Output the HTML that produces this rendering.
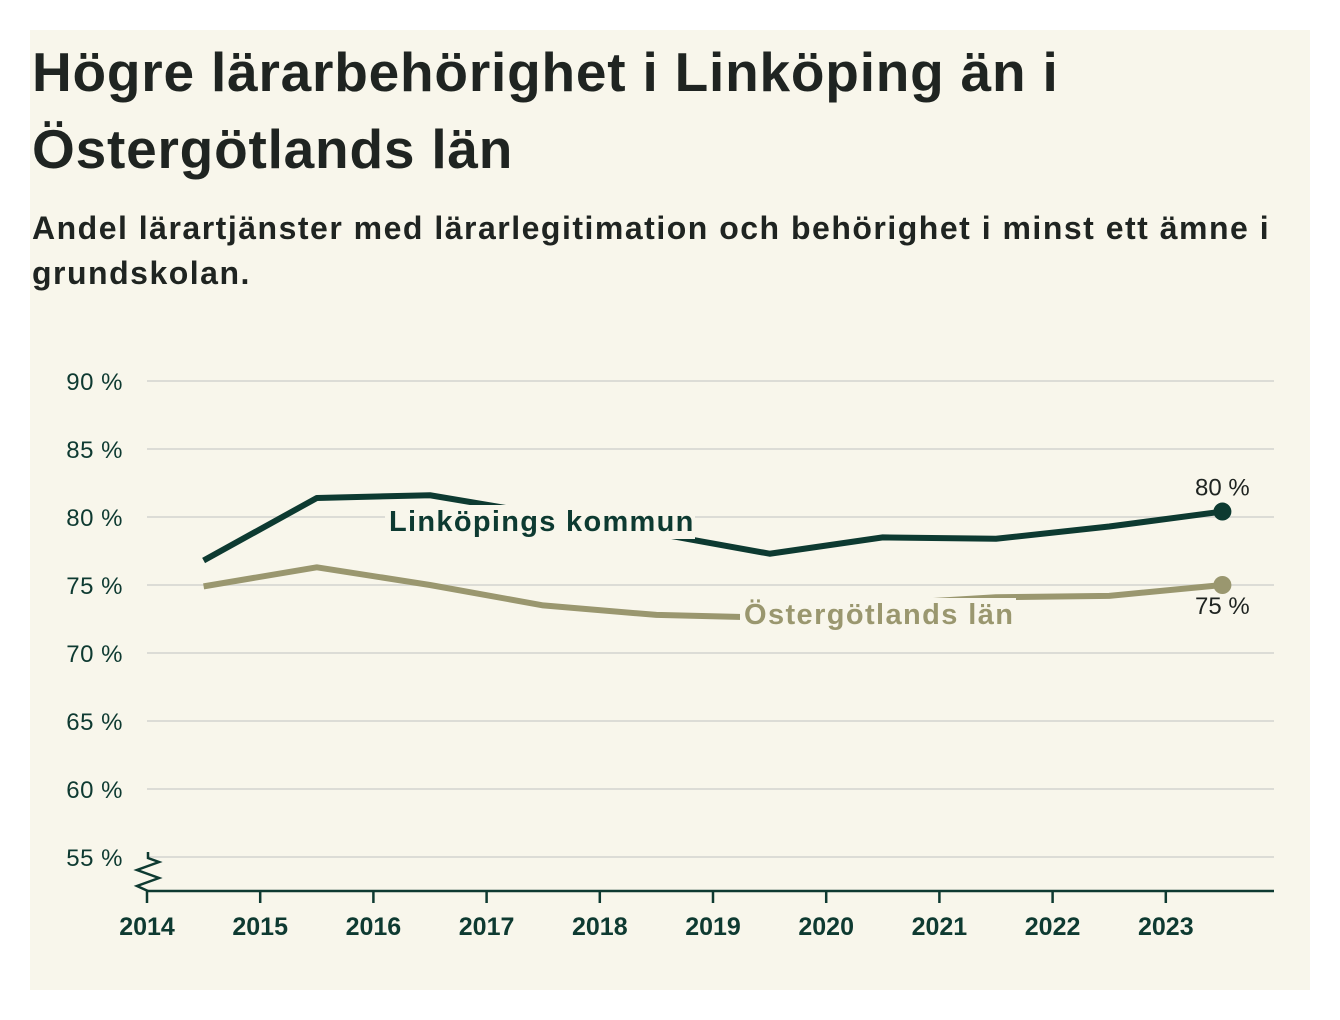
<!DOCTYPE html>
<html><head><meta charset="utf-8"><style>
body{margin:0;background:#fff;width:1340px;height:1020px;overflow:hidden;font-family:"Liberation Sans",sans-serif}
#panel{position:absolute;left:30px;top:30px;width:1280px;height:960px;background:#f8f6eb}
h1{position:absolute;left:2px;top:4px;margin:0;font-size:55px;line-height:77px;font-weight:bold;color:#1f2421;letter-spacing:0.8px}
h2{position:absolute;left:2px;top:176px;margin:0;font-size:32px;line-height:45px;font-weight:bold;color:#1f2421;width:1278px;letter-spacing:1.5px}
svg{position:absolute;left:0;top:0}
</style></head><body>
<div id="panel">
<h1>Högre lärarbehörighet i Linköping än i<br>Östergötlands län</h1>
<h2>Andel lärartjänster med lärarlegitimation och behörighet i minst ett ämne i grundskolan.</h2>
</div>
<svg id="chart" width="1340" height="1020"></svg>
<script>
const years=[2014.5,2015.5,2016.5,2017.5,2018.5,2019.5,2020.5,2021.5,2022.5,2023.5];
const linkoping=[76.8,81.4,81.6,80.2,78.8,77.3,78.5,78.4,79.3,80.4];
const ostergotland=[74.9,76.3,75.0,73.5,72.8,72.6,73.6,74.1,74.2,75.0];
const yTicks=[55,60,65,70,75,80,85,90];
const xTicks=[2014,2015,2016,2017,2018,2019,2020,2021,2022,2023];
const NS='http://www.w3.org/2000/svg',svg=document.getElementById('chart');
const X=v=>147+(v-2014)*113.2, Y=v=>381+(90-v)*13.6;
function mk(t,a,txt){const e=document.createElementNS(NS,t);for(const k in a)e.setAttribute(k,a[k]);if(txt!=null)e.textContent=txt;svg.appendChild(e);return e;}
const F='"Liberation Sans",sans-serif';
yTicks.forEach(v=>{
 const g=mk('line',{x1:147,x2:1274,y1:Y(v),y2:Y(v),stroke:'#dcdcd6','stroke-width':2});
 
 
 const t=mk('text',{x:123,y:Y(v)+9,'text-anchor':'end','font-size':24,'font-family':F,fill:'#0e3a31','letter-spacing':0.5},v+' %');
 
 
});
const ax=mk('line',{x1:147,x2:1274,y1:891,y2:891,stroke:'#0e3a31','stroke-width':2.5});


const br=mk('path',{d:'M148 852 L148 858 L159 862 L137 870 L159 878 L137 886 L148 891',fill:'none',stroke:'#0e3a31','stroke-width':2.5});


xTicks.forEach(v=>{
 const l=mk('line',{x1:X(v),x2:X(v),y1:891,y2:903,stroke:'#0e3a31','stroke-width':2.5});
 
 
 const t=mk('text',{x:X(v),y:935,'text-anchor':'middle','font-size':25,'font-weight':'bold','font-family':F,fill:'#0e3a31'},v);
 
 
});
function series(vals,col,name){
 const p=mk('polyline',{points:vals.map((v,i)=>X(years[i])+','+Y(v)).join(' '),fill:'none',stroke:col,'stroke-width':6,'stroke-linejoin':'round'});
 
 
 const n=vals.length-1;
 const c=mk('circle',{cx:X(years[n]),cy:Y(vals[n]),r:9,fill:col});
 
 
}
series(ostergotland,'#9a976f','ostergotland');
series(linkoping,'#0d3a31','linkoping');
function label(txt,x,y,w,col,name,ls){
 const r=mk('rect',{x:x-4,y:y-26,width:w,height:34,fill:'#f8f6eb'});
 
 
 const t=mk('text',{x:x,y:y,'font-size':29,'font-weight':'bold','font-family':F,fill:col,'letter-spacing':ls},txt);
 
 
}
label('Linköpings kommun',389,531,310,'#0d3a31','linkoping',1.3);
label('Östergötlands län',744,624,276,'#9a976f','ostergotland',1.4);
const e1=mk('text',{x:X(years[9]),y:Y(linkoping[9])-16,'text-anchor':'middle','font-size':24,'font-family':F,fill:'#1f2421'},Math.round(linkoping[9])+' %');


const e2=mk('text',{x:X(years[9]),y:Y(ostergotland[9])+29,'text-anchor':'middle','font-size':24,'font-family':F,fill:'#1f2421'},Math.round(ostergotland[9])+' %');


</script>
</body></html>
